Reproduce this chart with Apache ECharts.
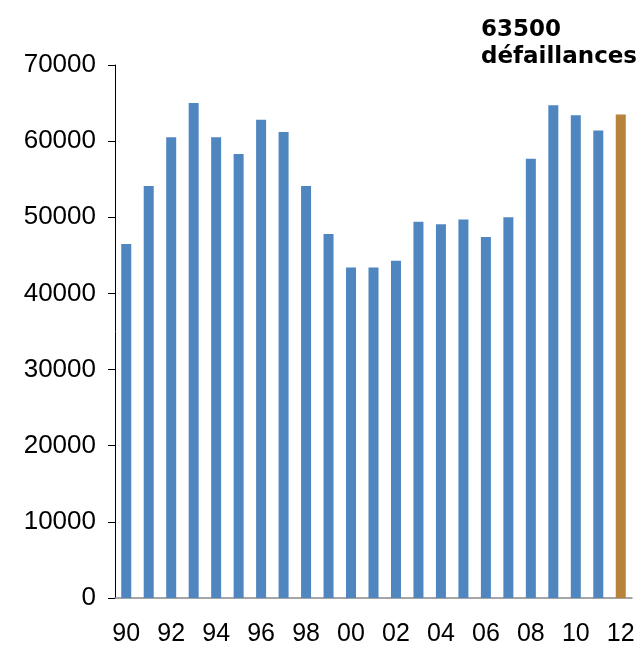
<!DOCTYPE html>
<html>
<head>
<meta charset="utf-8">
<script src="https://cdn.jsdelivr.net/npm/echarts@6/dist/echarts.min.js"></script>
<style>
html,body{margin:0;padding:0;background:#fff;}
#chart{width:643px;height:647px;}
</style>
</head>
<body>
<div id="chart"></div>
<script>
var years = ['90','91','92','93','94','95','96','97','98','99','00','01','02','03','04','05','06','07','08','09','10','11','12'];
var failures = [46500,54100,60500,65000,60500,58300,62800,61200,54100,47800,43400,43400,44300,49400,49100,49700,47400,50000,57700,64700,63400,61400,63500];
var highlightIndex = 22;
var annotationText = '63500\ndéfaillances';
var yTicks = { min: 0, max: 70000, interval: 10000 };

var blue = '#4F86C0';
var orange = '#B7823A';

var chart = echarts.init(document.getElementById('chart'), null, {renderer: 'canvas'});
chart.setOption({
  animation: false,
  backgroundColor: '#ffffff',
  grid: { left: 115, top: 65, width: 517, height: 535, containLabel: false },
  xAxis: {
    type: 'category',
    data: years,
    boundaryGap: true,
    axisLine: { show: true, lineStyle: { color: '#888888', width: 1.5 } },
    axisTick: { show: false },
    axisLabel: {
      interval: 1,
      margin: 24,
      fontFamily: 'Liberation Sans, Arial, sans-serif',
      fontSize: 25,
      color: '#000000'
    },
    splitLine: { show: false }
  },
  yAxis: {
    type: 'value',
    min: yTicks.min,
    max: yTicks.max,
    interval: yTicks.interval,
    axisLine: { show: true, lineStyle: { color: '#000000', width: 1 } },
    axisTick: { show: true, length: 7, lineStyle: { color: '#000000', width: 1 } },
    axisLabel: {
      margin: 19,
      fontFamily: 'Liberation Sans, Arial, sans-serif',
      fontSize: 26,
      color: '#000000',
      formatter: function (v) { return String(v); }
    },
    splitLine: { show: false }
  },
  series: [{
    type: 'bar',
    data: failures.map(function (v, i) {
      return { value: v, itemStyle: { color: i === highlightIndex ? orange : blue } };
    }),
    barWidth: 10,
    itemStyle: { color: blue }
  }],
  graphic: [{
    type: 'text',
    left: 481,
    top: 17,
    style: {
      text: annotationText,
      font: 'bold 23px "DejaVu Sans", Verdana, sans-serif',
      lineHeight: 27,
      fill: '#000000'
    }
  }]
});
</script>
</body>
</html>
